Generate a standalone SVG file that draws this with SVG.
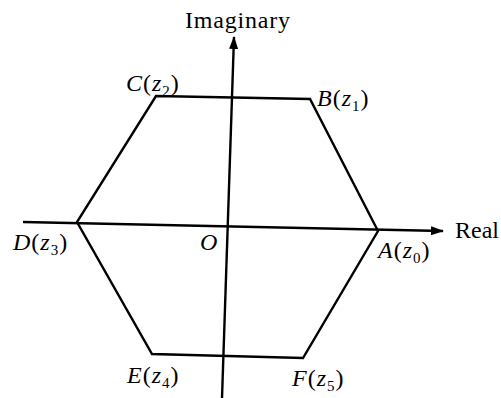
<svg xmlns="http://www.w3.org/2000/svg" width="501" height="398" viewBox="0 0 501 398">
<style>
.ax{stroke:#000;stroke-width:2.4;fill:none}
.hx{stroke:#000;stroke-width:2.4;fill:none;stroke-linejoin:miter}
text{font-family:"Liberation Serif","Times New Roman",serif;font-size:24px;fill:#000}
.i{font-style:italic}
.s{font-size:15px;font-style:normal}
</style>
<defs>
<marker id="ar" viewBox="0 0 13 9" refX="12" refY="4.5" markerWidth="13" markerHeight="9" markerUnits="userSpaceOnUse" orient="auto">
<path d="M0,0 L13,4.5 L0,9 Z" fill="#000"/>
</marker>
</defs>
<rect width="501" height="398" fill="#fff"/>
<g id="connectors">
<line class="ax" x1="23" y1="222" x2="443" y2="231" marker-end="url(#ar)"/>
<line class="ax" x1="222" y1="398" x2="234" y2="37" marker-end="url(#ar)"/>
</g>
<g id="hexagon">
<polygon class="hx" points="378,231 310,99 156,96 77,222 152,354 303,358"/>
</g>
<g id="labels">
<text x="185" y="28" letter-spacing="0.8">Imaginary</text>
<text x="455" y="238">Real</text>
<text x="200" y="250" class="i">O</text>
</g>
<g id="nodeA"><text x="378" y="258" letter-spacing="1"><tspan class="i">A</tspan>(<tspan class="i">z</tspan><tspan class="s" dy="5">0</tspan><tspan dy="-5">)</tspan></text></g>
<g id="nodeB"><text x="317" y="106" letter-spacing="1"><tspan class="i">B</tspan>(<tspan class="i">z</tspan><tspan class="s" dy="5">1</tspan><tspan dy="-5">)</tspan></text></g>
<g id="nodeC"><text x="126" y="91" letter-spacing="1"><tspan class="i">C</tspan>(<tspan class="i">z</tspan><tspan class="s" dy="5">2</tspan><tspan dy="-5">)</tspan></text></g>
<g id="nodeD"><text x="13" y="250" letter-spacing="1"><tspan class="i">D</tspan>(<tspan class="i">z</tspan><tspan class="s" dy="5">3</tspan><tspan dy="-5">)</tspan></text></g>
<g id="nodeE"><text x="127" y="383" letter-spacing="1"><tspan class="i">E</tspan>(<tspan class="i">z</tspan><tspan class="s" dy="5">4</tspan><tspan dy="-5">)</tspan></text></g>
<g id="nodeF"><text x="292" y="386" letter-spacing="1"><tspan class="i">F</tspan>(<tspan class="i">z</tspan><tspan class="s" dy="5">5</tspan><tspan dy="-5">)</tspan></text></g>
</svg>
